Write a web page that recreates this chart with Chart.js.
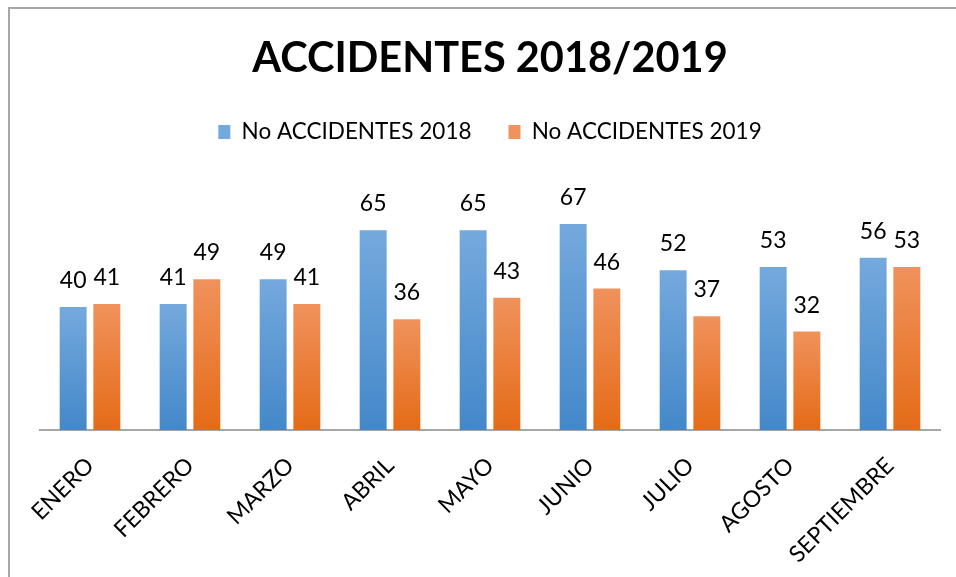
<!DOCTYPE html>
<html>
<head>
<meta charset="utf-8">
<script src="https://cdn.jsdelivr.net/npm/chart.js@4.4.1/dist/chart.umd.min.js"></script>
<style>
  body { margin: 0; background: #fff; }
  #wrap { position: relative; width: 956px; height: 577px; overflow: hidden; }
  #frame { position: absolute; left: 8px; top: 7px; width: 1200px; height: 1200px; border: 2px solid #a6a6a6; box-sizing: border-box; }
</style>
</head>
<body>
<div id="wrap">
  <div id="frame"></div>
  <canvas id="chart" width="956" height="577"></canvas>
</div>
<script>
// Chart data
const months = ['ENERO', 'FEBRERO', 'MARZO', 'ABRIL', 'MAYO', 'JUNIO', 'JULIO', 'AGOSTO', 'SEPTIEMBRE'];
const accidents2018 = [40, 41, 49, 65, 65, 67, 52, 53, 56];
const accidents2019 = [41, 49, 41, 36, 43, 46, 37, 32, 53];

Chart.defaults.font.family = 'Lato';
Chart.defaults.color = '#000';

// vertical gradient per bar, lighter at top
function barFill(topColor, bottomColor, flat) {
  return (ctx) => {
    const chart = ctx.chart;
    if (ctx.type !== 'data' || !chart.chartArea) return flat;
    const y = chart.scales.y;
    const g = chart.ctx.createLinearGradient(0, y.getPixelForValue(ctx.raw), 0, y.getPixelForValue(0));
    g.addColorStop(0, topColor);
    g.addColorStop(1, bottomColor);
    return g;
  };
}

// value labels above each bar
const valueLabels = {
  id: 'valueLabels',
  afterDatasetsDraw(chart) {
    const ctx = chart.ctx;
    ctx.save();
    ctx.font = '23px Lato';
    ctx.fillStyle = '#000';
    ctx.textAlign = 'center';
    ctx.textBaseline = 'alphabetic';
    chart.data.datasets.forEach((ds, i) => {
      chart.getDatasetMeta(i).data.forEach((bar, j) => {
        ctx.fillText(ds.data[j], bar.x, bar.y - 19);
      });
    });
    ctx.restore();
  }
};

new Chart(document.getElementById('chart'), {
  type: 'bar',
  data: {
    labels: months,
    datasets: [{
      label: 'No ACCIDENTES 2018',
      data: accidents2018,
      backgroundColor: barFill('#74a9dd', '#4488c9', '#5b9bd5'),
      categoryPercentage: 0.674,
      barPercentage: 0.8
    }, {
      label: 'No ACCIDENTES 2019',
      data: accidents2019,
      backgroundColor: barFill('#f0925c', '#e46b17', '#ed7d31'),
      categoryPercentage: 0.674,
      barPercentage: 0.8
    }]
  },
  options: {
    responsive: false,
    animation: false,
    layout: { padding: { left: 40, right: 16, top: 0, bottom: 0 } },
    plugins: {
      title: {
        display: true,
        text: 'ACCIDENTES 2018/2019',
        font: { size: 41.5, weight: 'bold' },
        color: '#000',
        padding: { top: 34, bottom: 0 }
      },
      legend: {
        labels: { boxWidth: 12, boxHeight: 14, padding: 37, font: { size: 22.5 } }
      },
      tooltip: { enabled: false }
    },
    scales: {
      x: {
        grid: { display: false },
        border: { display: true, color: '#a6a6a6', width: 2 },
        ticks: { minRotation: 45, maxRotation: 45, padding: 14, font: { size: 23 }, color: '#000' },
        afterFit(scale) { scale.height = 147; }
      },
      y: {
        display: false,
        min: 0,
        max: 90
      }
    }
  },
  plugins: [valueLabels]
});
</script>
</body>
</html>
